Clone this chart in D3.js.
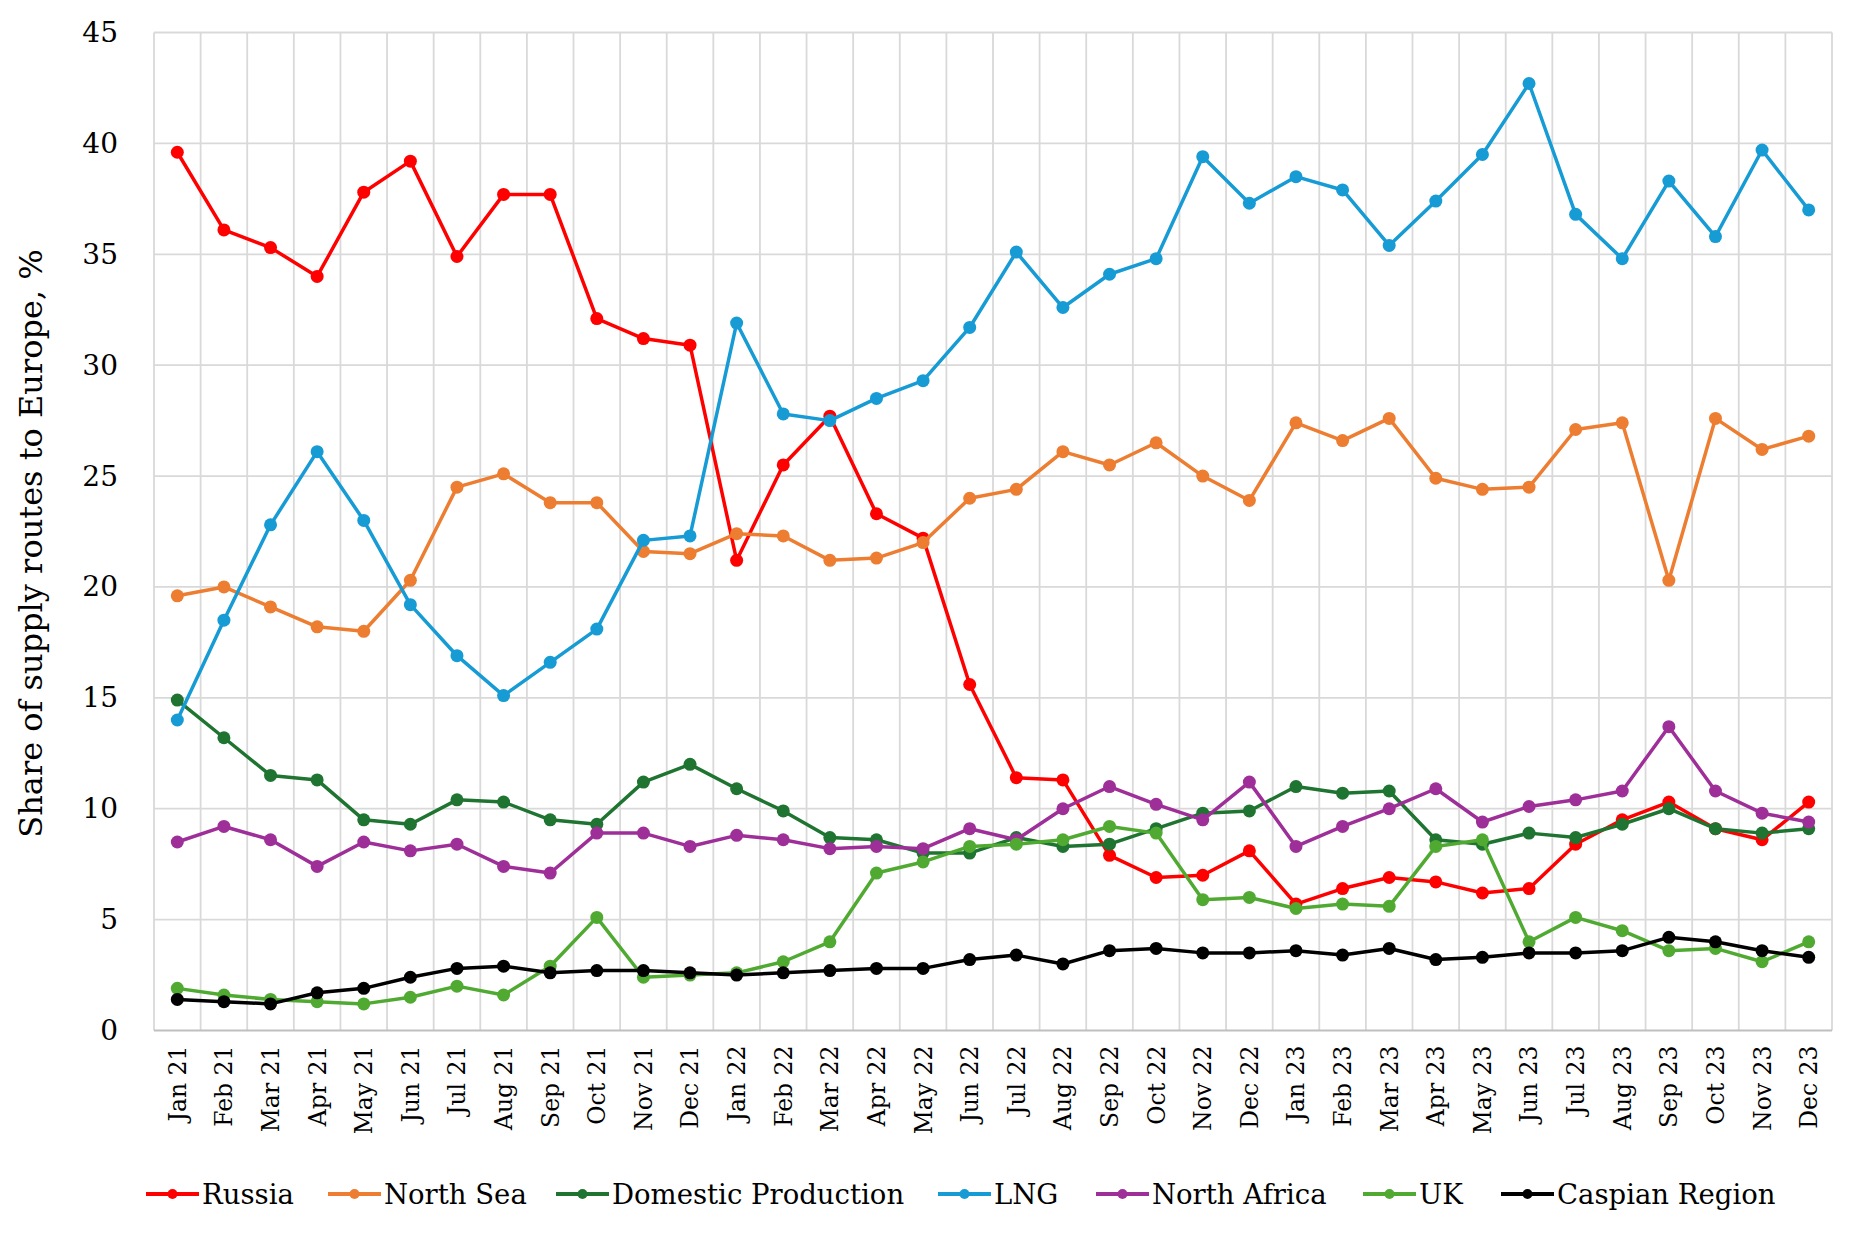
<!DOCTYPE html>
<html><head><meta charset="utf-8">
<script src="https://cdn.jsdelivr.net/npm/d3@7"></script>
<style>
html,body{margin:0;padding:0;background:#fff;}
svg{display:block;}
text{font-family:"DejaVu Serif","Liberation Serif",serif;fill:#000;}
</style></head>
<body>
<svg id="chart" width="1853" height="1238"></svg>
<script>
const months = ["Jan 21","Feb 21","Mar 21","Apr 21","May 21","Jun 21","Jul 21","Aug 21","Sep 21","Oct 21","Nov 21","Dec 21",
"Jan 22","Feb 22","Mar 22","Apr 22","May 22","Jun 22","Jul 22","Aug 22","Sep 22","Oct 22","Nov 22","Dec 22",
"Jan 23","Feb 23","Mar 23","Apr 23","May 23","Jun 23","Jul 23","Aug 23","Sep 23","Oct 23","Nov 23","Dec 23"];
const yTicks = [0,5,10,15,20,25,30,35,40,45];
const seriesNames = ["Russia","North Sea","Domestic Production","LNG","North Africa","UK","Caspian Region"];
const seriesColors = ["#FF0000","#ED7D31","#1E7430","#169BD5","#9E2F99","#50AA32","#000000"];

const russia = [39.6,36.1,35.3,34.0,37.8,39.2,34.9,37.7,37.7,32.1,31.2,30.9,
21.2,25.5,27.7,23.3,22.2,15.6,11.4,11.3,7.9,6.9,7.0,8.1,
5.7,6.4,6.9,6.7,6.2,6.4,8.4,9.5,10.3,9.1,8.6,10.3];
const northSea = [19.6,20.0,19.1,18.2,18.0,20.3,24.5,25.1,23.8,23.8,21.6,21.5,
22.4,22.3,21.2,21.3,22.0,24.0,24.4,26.1,25.5,26.5,25.0,23.9,
27.4,26.6,27.6,24.9,24.4,24.5,27.1,27.4,20.3,27.6,26.2,26.8];
const domestic = [14.9,13.2,11.5,11.3,9.5,9.3,10.4,10.3,9.5,9.3,11.2,12.0,
10.9,9.9,8.7,8.6,8.0,8.0,8.7,8.3,8.4,9.1,9.8,9.9,
11.0,10.7,10.8,8.6,8.4,8.9,8.7,9.3,10.0,9.1,8.9,9.1];
const lng = [14.0,18.5,22.8,26.1,23.0,19.2,16.9,15.1,16.6,18.1,22.1,22.3,
31.9,27.8,27.5,28.5,29.3,31.7,35.1,32.6,34.1,34.8,39.4,37.3,
38.5,37.9,35.4,37.4,39.5,42.7,36.8,34.8,38.3,35.8,39.7,37.0];
const northAfrica = [8.5,9.2,8.6,7.4,8.5,8.1,8.4,7.4,7.1,8.9,8.9,8.3,
8.8,8.6,8.2,8.3,8.2,9.1,8.6,10.0,11.0,10.2,9.5,11.2,
8.3,9.2,10.0,10.9,9.4,10.1,10.4,10.8,13.7,10.8,9.8,9.4];
const uk = [1.9,1.6,1.4,1.3,1.2,1.5,2.0,1.6,2.9,5.1,2.4,2.5,
2.6,3.1,4.0,7.1,7.6,8.3,8.4,8.6,9.2,8.9,5.9,6.0,
5.5,5.7,5.6,8.3,8.6,4.0,5.1,4.5,3.6,3.7,3.1,4.0];
const caspian = [1.4,1.3,1.2,1.7,1.9,2.4,2.8,2.9,2.6,2.7,2.7,2.6,
2.5,2.6,2.7,2.8,2.8,3.2,3.4,3.0,3.6,3.7,3.5,3.5,
3.6,3.4,3.7,3.2,3.3,3.5,3.5,3.6,4.2,4.0,3.6,3.3];

const seriesValues = [russia,northSea,domestic,lng,northAfrica,uk,caspian];

const svg = d3.select("#chart");
const L = 154, R = 1832, T = 32.5, B = 1030.5;

const x = d3.scaleBand().domain(months).range([L,R]).padding(0);
const y = d3.scaleLinear().domain([0,45]).range([B,T]);
const cx = d => x(d) + x.bandwidth()/2;

// horizontal grid
svg.append("g").selectAll("line").data(yTicks.filter(t=>t>0)).join("line")
  .attr("x1",L).attr("x2",R).attr("y1",d=>y(d)).attr("y2",d=>y(d))
  .attr("stroke","#D9D9D9").attr("stroke-width",1.8);
// vertical grid at band edges
const edges = months.map(m=>x(m)).concat([R]);
svg.append("g").selectAll("line").data(edges).join("line")
  .attr("x1",d=>d).attr("x2",d=>d).attr("y1",T).attr("y2",B)
  .attr("stroke","#D9D9D9").attr("stroke-width",1.8);
// bottom axis line
svg.append("line").attr("x1",L).attr("x2",R).attr("y1",B).attr("y2",B)
  .attr("stroke","#BFBFBF").attr("stroke-width",2.2);

// y axis
const yAxis = svg.append("g").attr("transform",`translate(${L},0)`)
  .call(d3.axisLeft(y).tickValues(yTicks).tickSize(0).tickPadding(36));
yAxis.select(".domain").remove();
yAxis.selectAll("text").style("font-family","DejaVu Serif").style("font-size","28px").attr("fill","#000");

// x axis
const xAxis = svg.append("g").attr("transform",`translate(0,${B})`)
  .call(d3.axisBottom(x).tickSize(0).tickPadding(0));
xAxis.select(".domain").remove();
xAxis.selectAll("text")
  .style("font-family","DejaVu Serif").style("font-size","23.5px").attr("fill","#000")
  .attr("text-anchor","end")
  .attr("transform","rotate(-90)")
  .attr("x",-15).attr("y",0).attr("dy","0.36em");

// y title
svg.append("text").attr("transform",`translate(42,${(T+B)/2+12}) rotate(-90)`)
  .attr("text-anchor","middle").style("font-size","32px").style("font-family","DejaVu Serif")
  .text("Share of supply routes to Europe, %");

// series
const line = d3.line().x((d,i)=>cx(months[i])).y(d=>y(d));
seriesNames.forEach((name,k)=>{
  const g = svg.append("g");
  g.append("path").datum(seriesValues[k]).attr("d",line)
    .attr("fill","none").attr("stroke",seriesColors[k]).attr("stroke-width",3.5).attr("stroke-linejoin","round");
  g.selectAll("circle").data(seriesValues[k]).join("circle")
    .attr("cx",(d,i)=>cx(months[i])).attr("cy",d=>y(d)).attr("r",6.5).attr("fill",seriesColors[k]);
});

// legend
const legendStarts = [146,328,556,938,1096,1363,1501];
const ly = 1194;
const lg = svg.append("g");
seriesNames.forEach((name,k)=>{
  const x0 = legendStarts[k];
  lg.append("line").attr("x1",x0).attr("x2",x0+53).attr("y1",ly).attr("y2",ly)
    .attr("stroke",seriesColors[k]).attr("stroke-width",4);
  lg.append("circle").attr("cx",x0+26.5).attr("cy",ly).attr("r",5).attr("fill",seriesColors[k]);
  lg.append("text").attr("x",x0+56).attr("y",ly).attr("dy","0.35em")
    .style("font-size","27.5px").style("font-family","DejaVu Serif").text(name);
});
</script>
</body></html>
